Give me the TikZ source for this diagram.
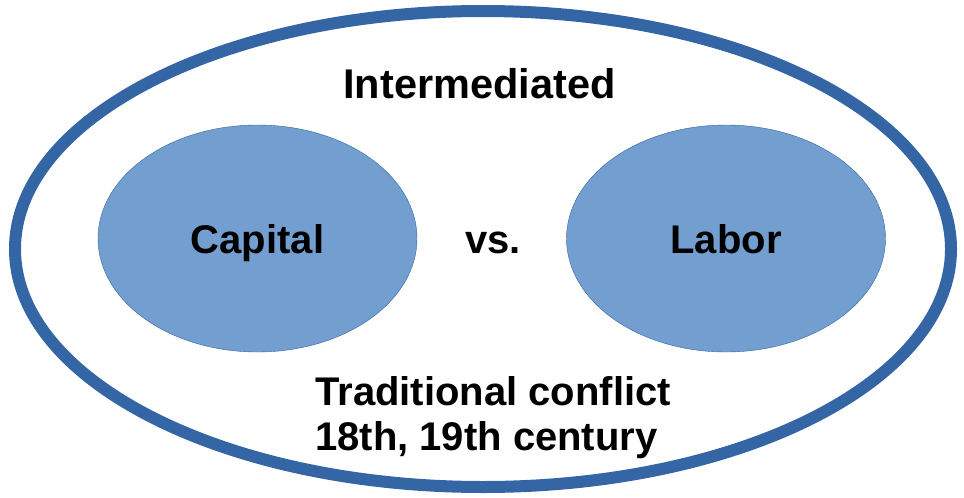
\documentclass[tikz,border=0pt]{standalone}
\usepackage{fontspec}
\setmainfont{Liberation Sans}
\usepackage{tikz}
\usetikzlibrary{shapes.geometric,positioning}

\definecolor{darkblue}{HTML}{3465A4}
\definecolor{lightblue}{HTML}{729FCF}

\begin{document}
\begin{tikzpicture}[x=1pt,y=-1pt]
    \useasboundingbox (0,0) rectangle (964,498);
    %Outer ring
    \node[ellipse,draw=darkblue,line width=12pt,minimum width=936pt,minimum height=476pt,inner sep=0pt] (outer) at (483,249) {};

    %Two sides
     \begin{scope}[every node/.style={ellipse,draw=darkblue,fill=lightblue,thin,
       minimum width=319pt,minimum height=227pt,inner sep=0pt,
       text height=29pt,text depth=0pt,
       font=\fontsize{40}{48}\selectfont\bfseries}]
       \node (capital) at (257.5,238.5) {Capital};
       \node (labor) at (726,238.5) {Labor};
    \end{scope}

    %Labels
     \begin{scope}[every node/.style={inner sep=0pt,anchor=base,
       font=\fontsize{40}{45}\selectfont\bfseries}]
       \node[font=\fontsize{41.5}{48}\selectfont\bfseries] (inter) at (479.5,98.5) {Intermediated};
       \node (vs) at (493,253) {vs.};
       \node[anchor=base west,align=left] (trad) at (315,450) {Traditional conflict\\18th, 19th century};
    \end{scope}
  \end{tikzpicture}
\end{document}
